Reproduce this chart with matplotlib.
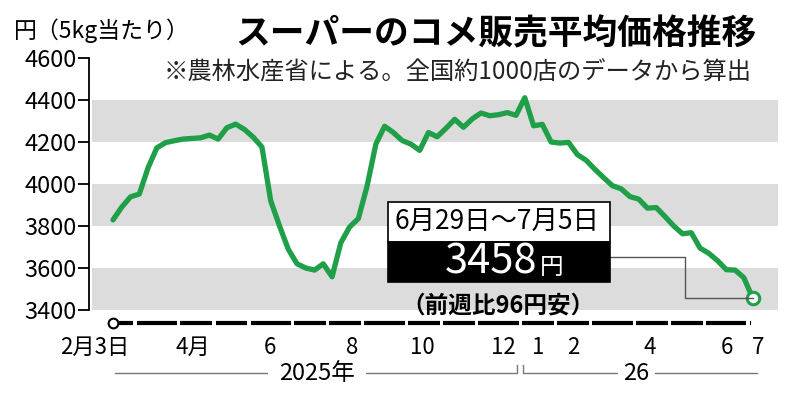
import matplotlib
matplotlib.use("Agg")
import matplotlib.pyplot as plt
import matplotlib.transforms as mtransforms
from matplotlib.patches import Rectangle
from matplotlib.lines import Line2D

plt.rcParams['font.family'] = ['Noto Sans CJK JP', 'DejaVu Sans']

# weekly average price (yen per 5kg), weeks from 2025-02-03 to 2026-06-29
prices = [3829, 3890, 3939, 3952, 4077, 4172, 4197, 4206, 4214, 4217,
          4220, 4233, 4214, 4268, 4285, 4260, 4223, 4176, 3920, 3801,
          3690, 3620, 3600, 3590, 3620, 3558, 3720, 3795, 3835, 3990,
          4190, 4275, 4245, 4207, 4190, 4160, 4245, 4225, 4265, 4308,
          4270, 4310, 4338, 4325, 4330, 4340, 4327, 4411, 4277, 4284,
          4200, 4195, 4198, 4140, 4113, 4070, 4030, 3992, 3977, 3940,
          3928, 3885, 3888, 3845, 3800, 3763, 3768, 3695, 3670, 3635,
          3592, 3590, 3554, 3458]
weeks = list(range(len(prices)))

# number of weeks per month, Feb 2025 .. Jun 2026
month_weeks = [4, 5, 4, 4, 5, 4, 4, 5, 4, 4, 5, 4, 4, 5, 4, 4, 5]

xtick_pos = [1.9, 9.1, 17.9, 27.3, 35.3, 44.6, 48.5, 52.5, 61.3, 70.1, 73.6]
xtick_labels = ['2月3日', '4月', '6', '8', '10', '12', '1', '2', '4', '6', '7']
ytick_vals = [3400, 3600, 3800, 4000, 4200, 4400, 4600]

green = '#1e9f48'
band = '#dcdcdc'

fig = plt.figure(figsize=(7.9, 4.0), dpi=100)
W, H = 790, 400
ax = fig.add_axes([89 / W, 90 / H, (778 - 89) / W, 252 / H])
ax.set_xlim(-2.74, 75.9)
ax.set_ylim(3400, 4600)

for lo in (3400, 3800, 4200):
    ax.axhspan(lo, lo + 200, xmin=0.004, xmax=1, color=band, lw=0, zorder=0)

ax.plot(weeks, prices, color=green, lw=3.8, solid_joinstyle='round',
        solid_capstyle='round', zorder=3)

for s in ('top', 'right', 'bottom'):
    ax.spines[s].set_visible(False)
ax.spines['left'].set_linewidth(1.3)
ax.set_yticks(ytick_vals)
ax.set_yticklabels([str(v) for v in ytick_vals])
ax.tick_params(axis='y', direction='out', length=8, width=1.3,
               labelsize=17, pad=1)
ax.set_xticks([])

# month ruler under the plot
trans = mtransforms.blended_transform_factory(ax.transData, ax.transAxes)
starts = [0]
for n in month_weeks:
    starts.append(starts[-1] + n)
edges = [0] + [s - 1.5 for s in starts[1:]] + [weeks[-1]]
ruler_y = -0.052
for a, b in zip(edges[:-1], edges[1:]):
    ax.plot([a + 0.2, b - 0.2], [ruler_y, ruler_y], color='black', lw=3.0,
            solid_capstyle='butt', transform=trans, clip_on=False)
ax.plot(0, ruler_y, 'o', ms=7, mfc='white', mec='black', mew=1.5,
        transform=trans, clip_on=False, zorder=5)

for x, lab in zip(xtick_pos, xtick_labels):
    ax.text(x, -0.148, lab, ha='right' if lab == '2月3日' else 'center',
            va='center', fontsize=16, transform=trans, zorder=6)

# year brackets
year_y = -0.25
split = starts[11] - 1.5
ax.plot([0.2, split - 0.35, split - 0.35], [year_y, year_y, year_y + 0.03],
        color='#777777', lw=1, transform=trans, clip_on=False, zorder=1)
ax.plot([split + 0.35, split + 0.35, weeks[-1] + 0.5],
        [year_y + 0.03, year_y, year_y], color='#777777', lw=1,
        transform=trans, clip_on=False, zorder=1)
ax.text(split / 2, year_y, '2025年', ha='center', va='center', fontsize=17,
        transform=trans, zorder=2, bbox=dict(fc='white', ec='none', pad=8))
ax.text((split + weeks[-1]) / 2, year_y, '26', ha='center', va='center',
        fontsize=17, transform=trans, zorder=2,
        bbox=dict(fc='white', ec='none', pad=4))

# titles
fig.text(496 / W, 1 - 34 / H, 'スーパーのコメ販売平均価格推移', ha='center',
         va='center', fontsize=25, fontweight='bold')
fig.text(458 / W, 1 - 73 / H, '※農林水産省による。全国約1000店のデータから算出',
         ha='center', va='center', fontsize=17.5, color='#222222')
fig.text(14 / W, 1 - 31 / H, '円（5kg当たり）', ha='left', va='center',
         fontsize=16.5)

# callout box
fig.add_artist(Rectangle((388 / W, 1 - 242 / H), 222 / W, 40 / H,
                         transform=fig.transFigure, fc='white', ec='black',
                         lw=1.2, zorder=6))
fig.add_artist(Rectangle((388 / W, 1 - 282 / H), 222 / W, 40 / H,
                         transform=fig.transFigure, fc='black', ec='black',
                         lw=1.2, zorder=6))
fig.text(497 / W, 1 - 222 / H, '6月29日～7月5日', ha='center', va='center',
         fontsize=19, zorder=7)
fig.text(537 / W, 1 - 274 / H, f'{prices[-1]}', ha='right', va='baseline',
         fontsize=30, color='white', zorder=7)
fig.text(540 / W, 1 - 274 / H, '円', ha='left', va='baseline',
         fontsize=17, color='white', zorder=7)
diff = prices[-2] - prices[-1]
fig.text(498 / W, 1 - 305 / H, f'（前週比{diff}円安）', ha='center',
         va='center', fontsize=17, fontweight='bold')

# leader line to last point
end_px = ax.transData.transform((weeks[-1], prices[-1]))
end_fx, end_fy = fig.transFigure.inverted().transform(end_px)
lx = [610 / W, 685 / W, 685 / W, end_fx]
ly = [1 - 257 / H, 1 - 257 / H, end_fy, end_fy]
fig.add_artist(Line2D(lx, ly, transform=fig.transFigure, color='#555555',
                      lw=1.0, zorder=4))
ax.plot(weeks[-1], prices[-1], 'o', ms=9, mfc='white', mec=green, mew=2.2,
        zorder=8, clip_on=False)

fig.savefig('out.png', dpi=100)
